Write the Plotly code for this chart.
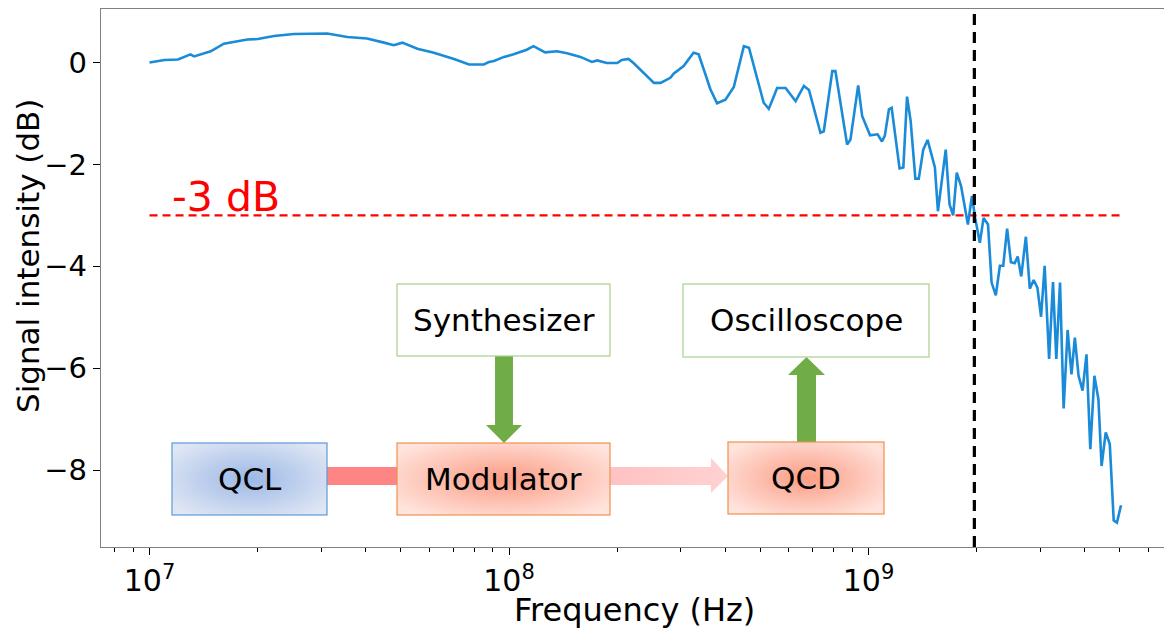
import base64
import numpy as np
import plotly.graph_objects as go

# ---------------- data ----------------
freq_hz = [
    1.00e7, 1.10e7, 1.20e7, 1.30e7, 1.33e7, 1.48e7, 1.61e7, 1.79e7, 1.87e7, 2.00e7,
    2.22e7, 2.52e7, 2.75e7, 3.12e7, 3.55e7, 4.03e7, 4.49e7, 4.78e7, 5.05e7, 5.56e7,
    6.18e7, 7.03e7, 7.74e7, 8.51e7, 8.79e7, 9.08e7, 9.68e7, 1.03e8, 1.12e8, 1.17e8,
    1.26e8, 1.36e8, 1.45e8, 1.58e8, 1.70e8, 1.76e8, 1.87e8, 2.00e8, 2.06e8, 2.15e8,
    2.22e8, 2.37e8, 2.53e8, 2.64e8, 2.81e8, 2.87e8, 3.06e8, 3.26e8, 3.37e8, 3.63e8,
    3.79e8, 4.00e8, 4.22e8, 4.50e8, 4.65e8, 5.11e8, 5.28e8, 5.57e8, 5.88e8, 6.27e8,
    6.61e8, 6.83e8, 7.35e8, 7.51e8, 7.93e8, 8.09e8, 8.72e8, 8.91e8, 9.36e8, 9.60e8,
    1.01e9, 1.06e9, 1.09e9, 1.11e9, 1.14e9, 1.16e9, 1.22e9, 1.25e9, 1.28e9, 1.31e9,
    1.35e9, 1.38e9, 1.42e9, 1.46e9, 1.53e9, 1.56e9, 1.64e9, 1.68e9, 1.72e9, 1.76e9,
    1.81e9, 1.89e9, 1.94e9, 1.98e9, 2.04e9, 2.09e9, 2.15e9, 2.20e9, 2.26e9, 2.32e9,
    2.37e9, 2.43e9, 2.49e9, 2.55e9, 2.60e9, 2.66e9, 2.74e9, 2.81e9, 2.88e9, 2.95e9,
    3.02e9, 3.09e9, 3.18e9, 3.26e9, 3.33e9, 3.41e9, 3.49e9, 3.58e9, 3.67e9, 3.75e9,
    3.84e9, 3.94e9, 4.04e9, 4.14e9, 4.25e9, 4.36e9, 4.45e9, 4.57e9, 4.69e9, 4.81e9,
    4.91e9, 5.04e9,
]
signal_db = [
    0.00, 0.05, 0.06, 0.16, 0.12, 0.22, 0.37, 0.42, 0.45, 0.46,
    0.52, 0.56, 0.57, 0.57, 0.50, 0.47, 0.39, 0.34, 0.39, 0.27,
    0.19, 0.07, -0.04, -0.04, 0.01, 0.03, 0.11, 0.16, 0.25, 0.32,
    0.20, 0.22, 0.18, 0.11, 0.01, 0.04, -0.01, -0.01, 0.05, 0.07,
    -0.01, -0.20, -0.40, -0.40, -0.30, -0.22, -0.07, 0.19, 0.16, -0.52,
    -0.80, -0.73, -0.48, 0.32, 0.29, -0.79, -0.91, -0.50, -0.50, -0.76,
    -0.46, -0.54, -1.38, -1.35, -0.17, -0.17, -1.61, -1.51, -0.45, -1.05,
    -1.43, -1.41, -1.55, -1.44, -0.92, -0.89, -2.08, -2.06, -0.67, -1.15,
    -2.28, -2.28, -1.71, -1.52, -2.06, -2.92, -1.71, -2.78, -3.00, -2.16,
    -2.43, -3.18, -2.62, -3.05, -3.54, -3.05, -3.18, -4.32, -4.57, -3.99,
    -3.99, -3.26, -3.92, -3.94, -3.81, -4.20, -3.42, -4.44, -4.27, -4.42,
    -4.99, -3.99, -5.82, -4.31, -5.82, -4.32, -6.79, -5.25, -6.12, -5.40,
    -6.15, -6.44, -5.73, -7.59, -6.15, -6.61, -7.92, -7.26, -7.49, -8.99,
    -9.03, -8.69,
]
cutoff_db = -3.0
cutoff_label = "-3 dB"
bandwidth_hz = 1.97e9

x_tick_vals = [1e7, 1e8, 1e9]
x_tick_text = ["10<sup>7</sup>", "10<sup>8</sup>", "10<sup>9</sup>"]
y_tick_vals = [0, -2, -4, -6, -8]
x_title = "Frequency (Hz)"
y_title = "Signal intensity (dB)"

diagram_boxes = ["QCL", "Modulator", "QCD", "Synthesizer", "Oscilloscope"]

# ---------------- geometry / style ----------------
W, H = 1164, 628
ML, MR, MT, MB = 101, 0, 9, 81
PW, PH = W - ML - MR, H - MT - MB
FONT = "DejaVu Sans"


def px(x):
    return (x - ML) / PW


def py(y):
    return (MT + PH - y) / PH


minor_vals = [k * 10.0 ** n for n in range(6, 10) for k in range(2, 10)]

fig = go.Figure()
fig.add_trace(go.Scatter(
    x=[freq_hz[0], freq_hz[-1]], y=[cutoff_db, cutoff_db], mode="lines",
    line=dict(color="#ff0000", width=2.2, dash="8px,5px"), showlegend=False,
    hoverinfo="skip"))
fig.add_trace(go.Scatter(
    x=freq_hz, y=signal_db, mode="lines",
    line=dict(color="#1a8bd8", width=2.6), showlegend=False))

# vertical bandwidth marker
fig.add_shape(type="line", xref="x", yref="paper",
              x0=bandwidth_hz, x1=bandwidth_hz, y0=0, y1=1,
              line=dict(color="black", width=3.2, dash="11px,7px"), layer="above")

# ---------------- block diagram (SVG inset for gradient fills) ----------------
def rx(x):
    return x - ML


def ry(y):
    return y - MT


def rect(x0, y0, x1, y1, fill, stroke, sw=1.2):
    return (f'<rect x="{rx(x0)}" y="{ry(y0)}" width="{x1-x0}" height="{y1-y0}" '
            f'fill="{fill}" stroke="{stroke}" stroke-width="{sw}"/>')


def poly(pts, fill):
    s = " ".join(f"{rx(a)},{ry(b)}" for a, b in pts)
    return f'<polygon points="{s}" fill="{fill}"/>'


svg = [f'<svg xmlns="http://www.w3.org/2000/svg" width="{PW}" height="{PH}" viewBox="0 0 {PW} {PH}">',
       '<defs>',
       '<radialGradient id="gb" cx="50%" cy="50%" r="62%"><stop offset="0" stop-color="#9cb8e6"/>'
       '<stop offset="1" stop-color="#dfe6f4"/></radialGradient>',
       '<radialGradient id="go" cx="50%" cy="50%" r="62%"><stop offset="0" stop-color="#fb9c84"/>'
       '<stop offset="1" stop-color="#ffe4dd"/></radialGradient>',
       '<linearGradient id="gp" x1="0" y1="0" x2="1" y2="0"><stop offset="0" stop-color="#ffc2c2"/>'
       '<stop offset="1" stop-color="#ffd2d2"/></linearGradient>',
       '</defs>']
svg.append(rect(326, 467, 398, 485, "#ff8585", "none", 0))
svg.append(poly([(610, 467), (711, 467), (711, 458), (728, 476), (711, 493), (711, 485), (610, 485)], "url(#gp)"))
svg.append(poly([(495, 356), (513, 356), (513, 425), (522, 425), (504, 443), (486, 425), (495, 425)], "#70ad47"))
svg.append(poly([(797, 442), (816, 442), (816, 375), (825, 375), (806.5, 357), (788, 375), (797, 375)], "#70ad47"))
svg.append(rect(172, 443, 327, 515, "url(#gb)", "#5b9bd5"))
svg.append(rect(397, 443, 610, 515, "url(#go)", "#f0904f"))
svg.append(rect(728, 442, 884, 514, "url(#go)", "#f0904f"))
svg.append(rect(397, 284, 610, 356, "#ffffff", "#a9d18e"))
svg.append(rect(683, 284, 929, 357, "#ffffff", "#a9d18e"))
svg.append('</svg>')
svg_uri = "data:image/svg+xml;base64," + base64.b64encode("".join(svg).encode()).decode()

fig.add_layout_image(dict(source=svg_uri, xref="paper", yref="paper", x=0, y=1,
                          sizex=1, sizey=1, xanchor="left", yanchor="top",
                          sizing="stretch", layer="below"))

box_centers = [(250, 479), (503, 479), (806, 478), (504, 320), (806, 320)]
for label, (cx, cy) in zip(diagram_boxes, box_centers):
    fig.add_annotation(text=label, xref="paper", yref="paper", x=px(cx), y=py(cy),
                       showarrow=False, xanchor="center", yanchor="middle",
                       font=dict(family=FONT, size=31, color="black"))

fig.add_annotation(text=cutoff_label, xref="paper", yref="paper", x=px(170), y=py(197),
                   showarrow=False, xanchor="left", yanchor="middle",
                   font=dict(family=FONT, size=41, color="#ff0000"))

# axis titles
fig.add_annotation(text=x_title, xref="paper", yref="paper", x=px(634), y=py(610),
                   showarrow=False, xanchor="center", yanchor="middle",
                   font=dict(family=FONT, size=32, color="black"))
fig.add_annotation(text=y_title, xref="paper", yref="paper", x=px(28), y=py(256),
                   showarrow=False, xanchor="center", yanchor="middle", textangle=-90,
                   font=dict(family=FONT, size=31, color="black"))

fig.update_layout(
    width=W, height=H,
    margin=dict(l=ML, r=MR, t=MT, b=MB, autoexpand=False),
    paper_bgcolor="white", plot_bgcolor="white",
    font=dict(family=FONT, color="black"),
    xaxis=dict(type="log", range=[6.865, 9.822], showgrid=False, zeroline=False,
               showline=True, linecolor="#808080", linewidth=1.3, mirror=True,
               ticks="outside", ticklen=7, tickwidth=1.3, tickcolor="black",
               tickmode="array", tickvals=x_tick_vals, ticktext=x_tick_text,
               tickfont=dict(family=FONT, size=30),
               minor=dict(tickmode="array", tickvals=minor_vals, ticks="outside",
                          ticklen=4, tickwidth=1, tickcolor="black", showgrid=False)),
    yaxis=dict(range=[-9.51, 1.05], showgrid=False, zeroline=False,
               showline=True, linecolor="#808080", linewidth=1.3, mirror=False,
               ticks="outside", ticklen=7, tickwidth=1.3, tickcolor="black",
               tickmode="array", tickvals=y_tick_vals,
               tickfont=dict(family=FONT, size=29)),
)

fig.write_html("out.html", config={"displayModeBar": False},
               post_script="document.body.style.margin='0';")
